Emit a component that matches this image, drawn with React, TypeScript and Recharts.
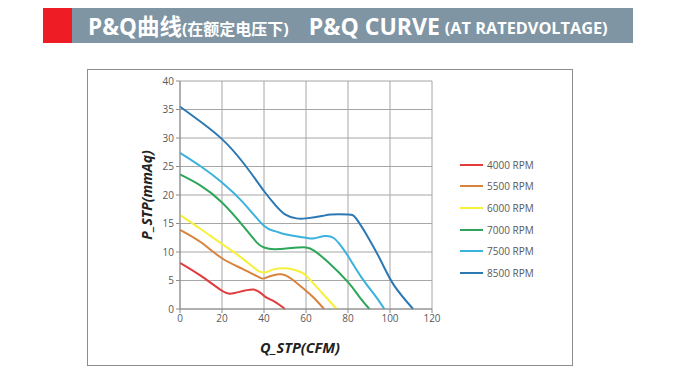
import { LineChart, Line, XAxis, YAxis, CartesianGrid } from 'recharts';

// each curve: flow (CFM) readings and static pressure (mmAq) readings
const q4000 = [0, 10, 20, 26, 35, 40, 45, 50];
const p4000 = [8.1, 5.8, 3.2, 2.8, 3.4, 2.3, 1.3, 0];

const q5500 = [0, 10, 20, 30, 38, 41, 47.5, 53, 60, 64.3, 68.6];
const p5500 = [13.9, 11.7, 8.9, 7.0, 5.5, 5.5, 6.1, 5.3, 3.2, 1.75, 0];

const q6000 = [0, 10, 20, 30, 37.3, 41.3, 45, 51.6, 58, 61, 67.5, 74.6];
const p6000 = [16.5, 14.0, 11.4, 8.8, 6.7, 6.5, 7.0, 7.1, 6.4, 5.5, 2.9, 0];

const q7000 = [0, 10, 20, 30, 36.5, 40, 45, 53, 60, 64, 70.6, 80, 85.7, 90.2];
const p7000 = [23.6, 21.6, 18.7, 14.6, 11.7, 10.8, 10.5, 10.7, 10.8, 10.2, 8.2, 4.7, 2.0, 0];

const q7500 = [0, 10, 20, 30, 40, 45, 50, 60, 64, 69, 73, 76, 80, 86.5, 93, 97.3];
const p7500 = [27.4, 25.0, 22.2, 18.7, 14.6, 13.7, 13.1, 12.5, 12.4, 12.8, 12.5, 11.4, 9.3, 5.5, 2.3, 0];

const q8500 = [0, 10, 20, 30, 40, 45, 50, 55.5, 60, 67.5, 72, 80, 84, 90, 96, 102, 111];
const p8500 = [35.5, 32.8, 29.8, 25.7, 20.7, 18.4, 16.6, 15.9, 15.9, 16.3, 16.6, 16.6, 15.8, 12.3, 8.2, 4.1, 0];

const series = [
  { key: 'r4000', name: '4000 RPM', color: '#E23B3E', q: q4000, p: p4000 },
  { key: 'r5500', name: '5500 RPM', color: '#D8823C', q: q5500, p: p5500 },
  { key: 'r6000', name: '6000 RPM', color: '#F7F03A', q: q6000, p: p6000 },
  { key: 'r7000', name: '7000 RPM', color: '#2EA65A', q: q7000, p: p7000 },
  { key: 'r7500', name: '7500 RPM', color: '#3BB2DE', q: q7500, p: p7500 },
  { key: 'r8500', name: '8500 RPM', color: '#2C78B3', q: q8500, p: p8500 },
];

const xTicks = [0, 20, 40, 60, 80, 100, 120];
const yTicks = [0, 5, 10, 15, 20, 25, 30, 35, 40];

const font = '"Open Sans", "Noto Sans CJK SC", sans-serif';

export default function App() {
  return (
    <div style={{ position: 'relative', width: 680, height: 380, margin: -8, background: '#fff', fontFamily: font }}>
      <div style={{ position: 'absolute', left: 43, top: 8, width: 29, height: 35, background: '#EE1C25' }} />
      <div
        style={{
          position: 'absolute', left: 72, top: 8, width: 561, height: 35, background: '#7F95A4',
          color: '#fff', fontWeight: 700, display: 'flex', alignItems: 'center', whiteSpace: 'nowrap',
        }}
      >
        <span style={{ marginLeft: 16, fontSize: 22.5 }}>P&amp;Q曲线</span>
        <span style={{ fontSize: 16, marginTop: 4 }}>(在额定电压下)</span>
        <span style={{ marginLeft: 20, fontSize: 23 }}>P&amp;Q CURVE</span>
        <span style={{ fontSize: 16.3, marginLeft: 5, marginTop: 4 }}>(AT RATEDVOLTAGE)</span>
      </div>
      <div style={{ position: 'absolute', left: 87, top: 69, width: 486, height: 297, border: '1px solid #8c8c8c', boxSizing: 'border-box' }} />
      <div
        style={{
          position: 'absolute', left: 146, top: 195, transform: 'translate(-50%, -50%) rotate(-90deg)',
          fontSize: 14, fontWeight: 700, fontStyle: 'italic', color: '#222', whiteSpace: 'nowrap',
        }}
      >
        P_STP(mmAq)
      </div>
      <div
        style={{
          position: 'absolute', left: 300, top: 347, transform: 'translate(-50%, -50%)',
          fontSize: 14.5, fontWeight: 700, fontStyle: 'italic', color: '#222', whiteSpace: 'nowrap',
        }}
      >
        Q_STP(CFM)
      </div>
      <div style={{ position: 'absolute', left: 460, top: 154 }}>
        {series.map((s) => (
          <div key={s.key} style={{ display: 'flex', alignItems: 'center', height: 21.6 }}>
            <span style={{ display: 'inline-block', width: 23, height: 2, background: s.color, marginRight: 4 }} />
            <span style={{ fontSize: 10, color: '#595959' }}>{s.name}</span>
          </div>
        ))}
      </div>
      <div style={{ position: 'absolute', left: 0, top: 0 }}>
        <LineChart width={680} height={380} margin={{ top: 81, right: 248, left: 150, bottom: 51 }}>
          <CartesianGrid stroke="#a6a6a6" strokeWidth={1} />
          <XAxis
            dataKey="q"
            type="number"
            domain={[0, 120]}
            ticks={xTicks}
            height={20}
            stroke="#8c8c8c"
            tickSize={4}
            allowDuplicatedCategory={false}
            tick={{ fontSize: 10, fill: '#595959', fontFamily: font }}
          />
          <YAxis
            type="number"
            domain={[0, 40]}
            ticks={yTicks}
            width={30}
            stroke="#8c8c8c"
            tickSize={4}
            tick={{ fontSize: 10, fill: '#595959', fontFamily: font }}
          />
          {series.map((s) => (
            <Line
              key={s.key}
              data={s.q.map((q, i) => ({ q, p: s.p[i] }))}
              dataKey="p"
              name={s.name}
              type="natural"
              stroke={s.color}
              strokeWidth={2}
              dot={false}
              isAnimationActive={false}
            />
          ))}
        </LineChart>
      </div>
    </div>
  );
}
